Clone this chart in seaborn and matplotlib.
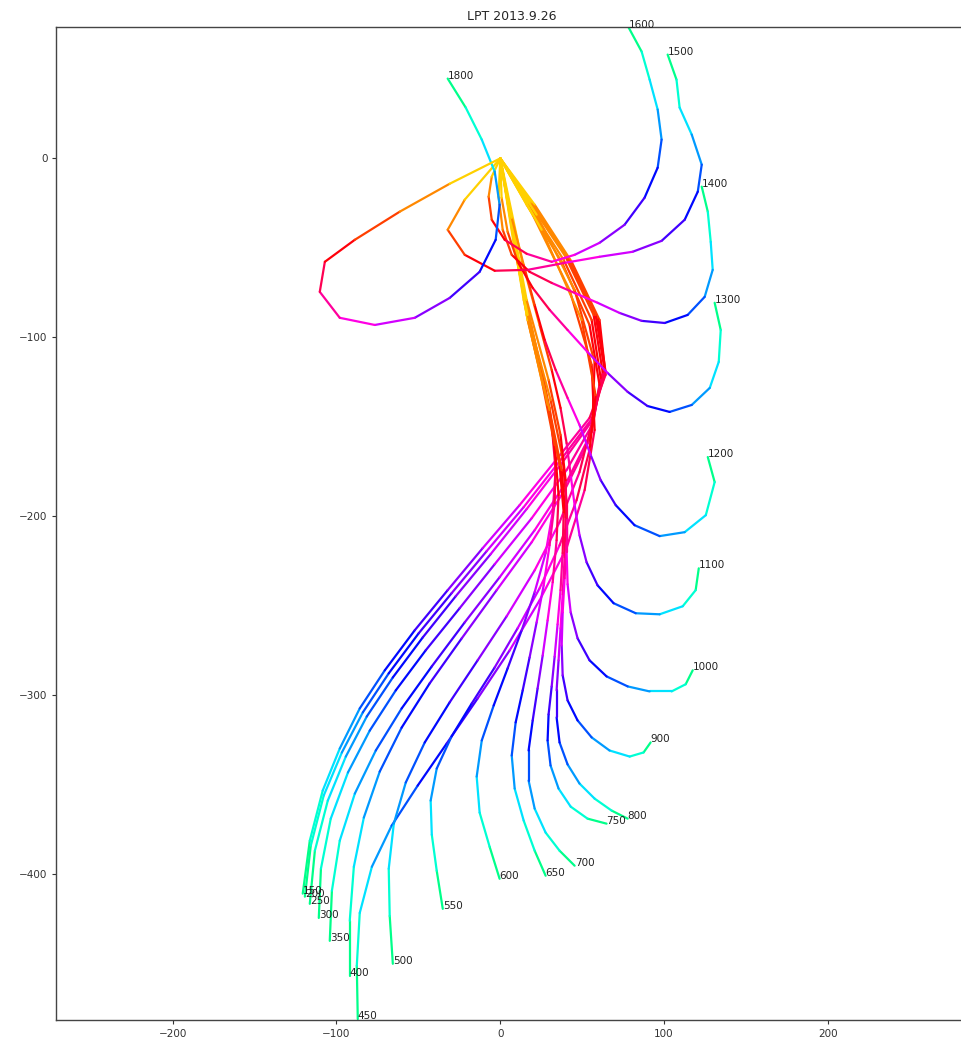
import colorsys
import matplotlib
matplotlib.use("Agg")
import matplotlib.pyplot as plt
import pandas as pd
import seaborn as sns

# ---- trajectory data (start point first, all end at the origin) ----
x150 = [-120.6, -116.3, -108.4, -98.0, -85.8, -70.5, -52.2, -32.1, -10.7, 11.8, 35.0, 54.5, 64.3, 60.6, 43.6, 21.0, 0]
y150 = [-410.9, -381.3, -353.3, -329.8, -307.4, -286.1, -263.7, -241.3, -217.8, -193.8, -167.5, -145.1, -121.0, -90.3, -57.8, -25.9, 0]
x200 = [-119.3, -115.7, -107.8, -96.7, -83.9, -68.1, -49.8, -29.7, -8.3, 14.3, 36.8, 55.8, 64.3, 59.4, 42.3, 19.8, 0]
y200 = [-412.6, -384.1, -356.1, -332.0, -309.6, -287.8, -265.4, -243.0, -219.5, -194.9, -168.6, -145.7, -119.3, -89.1, -56.7, -25.9, 0]
x250 = [-116.3, -113.2, -105.3, -94.3, -81.5, -65.6, -47.3, -27.2, -5.9, 16.1, 38.1, 56.4, 63.7, 58.2, 41.1, 18.6, 0]
y250 = [-416.6, -386.9, -358.9, -334.3, -311.9, -290.1, -267.7, -244.7, -221.2, -196.0, -169.7, -146.2, -118.2, -87.5, -55.6, -24.8, 0]
x300 = [-110.8, -109.5, -103.5, -93.0, -79.7, -63.8, -45.5, -24.8, -3.4, 19.2, 40.5, 56.4, 62.5, 57.0, 39.9, 17.9, 0]
y300 = [-424.5, -397.0, -369.0, -343.2, -319.8, -297.3, -274.9, -251.4, -226.8, -201.1, -174.2, -148.5, -119.3, -87.5, -55.0, -24.8, 0]
x350 = [-104.1, -102.8, -98.0, -88.8, -76.0, -60.2, -41.8, -21.7, -0.4, 21.0, 41.1, 55.8, 61.3, 55.8, 38.7, 16.7, 0]
y350 = [-437.3, -409.3, -381.3, -355.0, -330.9, -307.4, -283.9, -259.3, -234.1, -207.8, -179.8, -152.9, -122.7, -90.3, -56.7, -25.4, 0]
x400 = [-91.9, -91.9, -89.4, -83.3, -73.6, -60.2, -43.1, -23.5, -2.2, 19.2, 39.3, 54.5, 60.6, 54.5, 37.5, 16.1, 0]
y400 = [-456.8, -426.1, -395.9, -368.4, -342.7, -318.1, -293.4, -268.2, -241.3, -214.5, -185.4, -157.4, -126.6, -93.1, -57.8, -25.9, 0]
x450 = [-87.0, -87.6, -85.8, -78.4, -66.3, -50.4, -32.7, -13.8, 5.7, 24.0, 40.5, 51.5, 57.6, 55.8, 42.3, 19.8, 0]
y450 = [-481.0, -451.2, -421.7, -395.9, -372.9, -350.5, -327.0, -301.8, -275.0, -247.0, -217.8, -185.4, -151.8, -115.4, -73.5, -31.5, 0]
x500 = [-65.6, -67.5, -68.1, -65.0, -57.7, -46.1, -30.9, -13.8, 3.9, 21.0, 36.2, 48.4, 56.4, 57.6, 45.4, 22.2, 0]
y500 = [-450.1, -423.4, -397.0, -371.8, -348.8, -326.4, -304.0, -280.5, -255.9, -230.2, -203.4, -175.3, -146.2, -113.7, -73.5, -31.5, 0]
x550 = [-35.1, -38.8, -41.8, -42.5, -38.8, -29.7, -17.4, -3.4, 10.6, 24.0, 36.2, 46.6, 54.5, 58.2, 49.7, 25.3, 0]
y550 = [-419.4, -398.1, -378.0, -358.9, -341.0, -323.0, -304.6, -284.5, -262.6, -240.3, -216.2, -191.0, -163.0, -132.3, -90.3, -39.9, 0]
x600 = [-0.4, -6.5, -12.6, -14.4, -11.3, -4.0, 4.5, 13.1, 21.0, 27.7, 32.0, 33.8, 31.4, 25.9, 17.9, 8.8, 0]
y600 = [-402.6, -384.7, -365.6, -345.5, -325.3, -305.7, -285.0, -263.7, -242.4, -220.6, -197.7, -174.2, -149.0, -121.0, -90.3, -51.1, 0]
x650 = [27.7, 21.0, 14.3, 8.8, 7.0, 9.4, 13.7, 17.9, 22.2, 26.5, 30.1, 33.2, 33.8, 30.1, 22.2, 11.8, 0]
y650 = [-400.9, -386.9, -370.1, -352.2, -333.7, -315.2, -297.3, -278.9, -259.3, -238.6, -216.2, -192.6, -167.5, -139.5, -107.0, -62.3, 0]
x700 = [45.4, 36.2, 27.7, 21.0, 17.3, 17.3, 19.8, 22.8, 25.9, 28.9, 32.0, 34.4, 35.6, 33.2, 25.9, 14.3, 0]
y700 = [-395.3, -386.9, -376.8, -363.4, -347.7, -330.9, -314.1, -296.2, -277.8, -258.2, -236.9, -213.4, -188.2, -160.2, -126.6, -79.1, 0]
x750 = [64.9, 53.3, 43.0, 35.6, 30.7, 28.9, 29.5, 31.4, 33.2, 35.0, 36.8, 38.1, 38.7, 36.2, 28.9, 16.1, 0]
y750 = [-371.8, -369.0, -362.3, -352.2, -339.3, -325.3, -310.7, -295.1, -278.4, -260.4, -241.3, -220.6, -197.7, -171.4, -137.8, -87.5, 0]
x800 = [77.8, 68.0, 57.6, 48.4, 41.1, 36.2, 34.4, 34.4, 35.6, 36.8, 38.1, 39.3, 39.9, 37.5, 30.1, 16.7, 0]
y800 = [-369.0, -364.5, -357.8, -349.4, -338.7, -326.4, -312.4, -297.3, -280.5, -262.6, -243.6, -222.9, -200.5, -174.2, -140.6, -90.3, 0]
x900 = [91.8, 87.5, 79.0, 66.7, 55.8, 47.2, 41.1, 38.1, 37.5, 38.1, 39.3, 40.5, 40.5, 38.1, 30.7, 16.7, 0]
y900 = [-326.4, -332.0, -334.3, -330.9, -323.6, -314.1, -302.9, -288.9, -272.2, -253.7, -234.6, -214.5, -192.6, -167.5, -135.0, -87.5, 0]
x1000 = [117.5, 113.2, 104.6, 91.2, 77.8, 64.9, 54.5, 47.2, 43.0, 41.1, 40.5, 40.5, 39.9, 36.8, 29.5, 16.1, 0]
y1000 = [-286.1, -293.9, -297.9, -297.9, -295.1, -289.5, -280.5, -268.2, -253.7, -238.0, -220.1, -201.1, -179.8, -154.6, -123.8, -79.1, 0]
x1100 = [121.2, 119.3, 111.4, 97.3, 82.7, 69.2, 59.4, 52.7, 48.4, 45.4, 43.0, 40.5, 36.8, 31.4, 24.0, 13.1, 0]
y1100 = [-229.1, -241.3, -250.3, -254.8, -254.2, -248.6, -238.6, -225.7, -210.6, -193.8, -177.0, -159.1, -139.5, -118.2, -93.1, -56.7, 0]
x1200 = [126.7, 130.9, 125.5, 112.6, 97.3, 82.0, 70.5, 61.3, 55.2, 48.4, 41.1, 33.8, 27.1, 21.0, 14.3, 7.0, 0]
y1200 = [-166.9, -180.9, -199.4, -208.9, -211.1, -205.0, -193.8, -179.8, -165.8, -149.0, -133.9, -118.2, -101.4, -81.9, -59.5, -33.2, 0]
x1300 = [130.9, 134.6, 133.4, 127.9, 116.9, 103.4, 89.9, 77.8, 65.5, 53.3, 41.1, 30.1, 19.8, 10.6, 4.5, 0.8, 0]
y1300 = [-80.7, -95.9, -113.7, -128.3, -137.8, -141.7, -138.4, -130.5, -119.9, -108.2, -95.9, -84.6, -72.4, -57.8, -41.0, -22.0, 0]
x1400 = [123.0, 126.7, 128.5, 129.7, 124.8, 114.4, 100.4, 86.3, 72.9, 59.4, 45.4, 31.4, 17.9, 7.0, 1.5, -1.0, 0]
y1400 = [-15.8, -29.8, -46.7, -62.3, -77.4, -87.5, -92.0, -90.8, -86.4, -80.7, -75.2, -69.6, -63.4, -53.9, -39.9, -21.4, 0]
x1500 = [102.2, 107.6, 109.5, 116.9, 123.0, 120.6, 112.6, 98.5, 80.8, 60.6, 39.3, 16.7, -3.4, -21.7, -32.1, -21.7, 0]
y1500 = [58.0, 44.0, 28.4, 13.3, -3.5, -18.6, -34.3, -46.1, -52.2, -55.0, -58.4, -62.3, -62.8, -53.9, -39.9, -23.1, 0]
x1600 = [78.4, 86.3, 91.2, 96.1, 98.5, 96.1, 88.1, 75.9, 60.6, 45.4, 31.4, 16.1, 2.7, -5.2, -7.1, -5.2, 0]
y1600 = [73.1, 59.7, 44.0, 27.3, 10.5, -5.2, -22.0, -37.1, -47.2, -53.9, -57.8, -53.3, -45.5, -34.3, -21.4, -10.2, 0]
x1800 = [-32.1, -21.1, -11.3, -3.4, -0.4, -2.8, -12.6, -30.9, -52.2, -76.6, -98.0, -110.2, -107.1, -88.8, -61.4, -30.9, 0]
y1800 = [44.6, 28.4, 10.5, -7.4, -25.9, -45.5, -63.4, -78.0, -89.1, -93.1, -89.1, -74.6, -57.8, -45.5, -29.8, -14.2, 0]

labels = [150, 200, 250, 300, 350, 400, 450, 500, 550, 600, 650, 700, 750,
          800, 900, 1000, 1100, 1200, 1300, 1400, 1500, 1600, 1800]
xs = [x150, x200, x250, x300, x350, x400, x450, x500, x550, x600, x650, x700, x750,
      x800, x900, x1000, x1100, x1200, x1300, x1400, x1500, x1600, x1800]
ys = [y150, y200, y250, y300, y350, y400, y450, y500, y550, y600, y650, y700, y750,
      y800, y900, y1000, y1100, y1200, y1300, y1400, y1500, y1600, y1800]

title = "LPT 2013.9.26"
xticks = [-200, -100, 0, 100, 200]
yticks = [0, -100, -200, -300, -400]


def time_color(t):
    h = (0.40 + 0.76 * t) % 1.0
    return colorsys.hsv_to_rgb(h, 1.0, 1.0)


# build segment table: every segment of every trajectory coloured by time
rows = []
palette = {}
for lab, xv, yv in zip(labels, xs, ys):
    n = len(xv)
    for k in range(n - 1):
        seg = f"{lab}_{k:02d}"
        palette[seg] = time_color((k + 0.5) / (n - 1))
        rows.append({"x": xv[k], "y": yv[k], "seg": seg})
        rows.append({"x": xv[k + 1], "y": yv[k + 1], "seg": seg})
df = pd.DataFrame(rows)

sns.set_style("ticks")
plt.rcParams["font.family"] = ["DejaVu Sans"]

fig = plt.figure(figsize=(9.61, 10.46), dpi=100)
ax = fig.add_axes([0.0587, 0.0249, 0.9476, 0.9496])

sns.lineplot(data=df, x="x", y="y", hue="seg", palette=palette, sort=False,
             estimator=None, legend=False, linewidth=1.6, ax=ax,
             solid_capstyle="round")

for lab, xv, yv in zip(labels, xs, ys):
    ax.text(xv[0], yv[0], str(lab), fontsize=7.5, color="#222222")

ax.set_xlim(-271, 285)
ax.set_ylim(-481.5, 73.6)
ax.set_xticks(xticks)
ax.set_yticks(yticks)
ax.tick_params(labelsize=7.5, length=3, colors="#333333")
ax.set_xlabel("")
ax.set_ylabel("")
ax.set_title(title, fontsize=9, pad=5)
for s in ax.spines.values():
    s.set_color("#444444")
    s.set_linewidth(1.0)

fig.savefig("out.png", dpi=100)
